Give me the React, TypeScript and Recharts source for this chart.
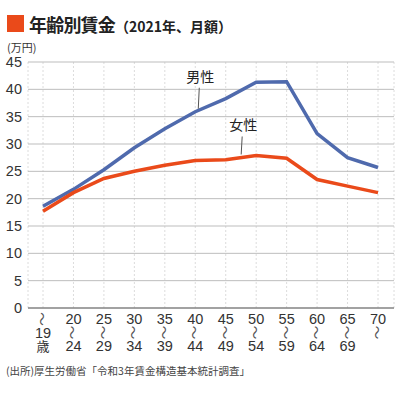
import React from 'react';
import { LineChart, Line, XAxis, YAxis, CartesianGrid, ReferenceDot } from 'recharts';

const ageGroups = ['~19', '20-24', '25-29', '30-34', '35-39', '40-44', '45-49', '50-54', '55-59', '60-64', '65-69', '70~'];
const ageLabelLines = [
    ['～', '19', '歳'],
    ['20', '～', '24'],
    ['25', '～', '29'],
    ['30', '～', '34'],
    ['35', '～', '39'],
    ['40', '～', '44'],
    ['45', '～', '49'],
    ['50', '～', '54'],
    ['55', '～', '59'],
    ['60', '～', '64'],
    ['65', '～', '69'],
    ['70', '～'],
];
const maleWage = [18.6, 21.7, 25.3, 29.3, 32.8, 35.9, 38.3, 41.3, 41.4, 31.9, 27.5, 25.7];
const femaleWage = [17.7, 21.1, 23.7, 25.0, 26.1, 27.0, 27.1, 27.9, 27.4, 23.5, 22.3, 21.1];
const yTicks = [0, 5, 10, 15, 20, 25, 30, 35, 40, 45];

const MALE_COLOR = '#4f6aad';
const FEMALE_COLOR = '#ea4a1a';
const NUM_FONT = '"Liberation Sans", Arial, "Noto Sans CJK JP", sans-serif';
const JP_FONT = '"Noto Sans CJK JP", "Noto Sans", sans-serif';

const chartData = ageGroups.map((age, i) => ({
    age,
    male: maleWage[i],
    female: femaleWage[i],
}));

const XTick = (props: any) => {
    const { x, y, index } = props;
    const lines = ageLabelLines[index] || [];
    return (
        <g>
            {lines.map((t, i) => {
                const cy = y + 3 + i * 13.5;
                if (t === '～') {
                    // wave dash drawn upright, as in vertical typesetting
                    return (
                        <text
                            key={i}
                            x={x}
                            y={cy}
                            textAnchor="middle"
                            dominantBaseline="central"
                            fontSize={13.5}
                            fill="#555"
                            fontFamily={JP_FONT}
                            transform={`rotate(90 ${x} ${cy})`}
                        >
                            {t}
                        </text>
                    );
                }
                const isJp = t === '歳';
                return (
                    <text
                        key={i}
                        x={x}
                        y={cy + 5}
                        textAnchor="middle"
                        fontSize={isJp ? 13 : 14.5}
                        fill="#333"
                        fontFamily={isJp ? JP_FONT : NUM_FONT}
                    >
                        {t}
                    </text>
                );
            })}
        </g>
    );
};

const YTick = (props: any) => {
    const { y, payload } = props;
    return (
        <text x={22} y={y + 5} textAnchor="end" fontSize={14.5} fill="#333" fontFamily={NUM_FONT}>
            {payload.value}
        </text>
    );
};

// label with a short leader line pointing down at the series
const leader = (label: string, dx: number, start: number, lineLen: number) => (props: any) => {
    const { cx, cy } = props;
    const x = cx + dx;
    const top = cy - start - lineLen;
    return (
        <g>
            <line x1={x} y1={cy - start} x2={x + 1} y2={top} stroke="#555" strokeWidth={1} />
            <text x={x + 2} y={top - 6} textAnchor="middle" fontSize={14} fill="#222" fontFamily={JP_FONT}>
                {label}
            </text>
        </g>
    );
};

export default function App() {
    return (
        <div style={{ position: 'absolute', left: 0, top: 0, width: 400, height: 394, background: '#fff' }}>
            <div style={{ position: 'absolute', left: 7, top: 15, width: 17, height: 17, background: FEMALE_COLOR }} />
            <div
                style={{
                    position: 'absolute',
                    left: 29,
                    top: 13,
                    height: 22,
                    lineHeight: '22px',
                    fontFamily: JP_FONT,
                    fontWeight: 700,
                    color: '#222',
                    whiteSpace: 'nowrap',
                }}
            >
                <span style={{ fontSize: 18, letterSpacing: -0.8 }}>年齢別賃金</span>
                <span style={{ fontSize: 14 }}>（2021年、月額）</span>
            </div>
            <div
                style={{
                    position: 'absolute',
                    left: 7,
                    top: 41,
                    lineHeight: '13px',
                    fontSize: 11,
                    fontFamily: JP_FONT,
                    color: '#333',
                }}
            >
                (万円)
            </div>
            <LineChart
                width={400}
                height={394}
                data={chartData}
                margin={{ top: 62, right: 6, bottom: 0, left: 0 }}
            >
                <CartesianGrid horizontal={false} stroke="#dcdcdc" strokeDasharray="2 2" />
                <CartesianGrid vertical={false} stroke="#bdbdbd" />
                <XAxis
                    dataKey="age"
                    interval={0}
                    height={86}
                    padding={{ left: 15, right: 16 }}
                    tickLine={false}
                    axisLine={{ stroke: '#666' }}
                    tick={<XTick />}
                />
                <YAxis
                    width={28}
                    domain={[0, 45]}
                    ticks={yTicks}
                    tickLine={false}
                    axisLine={false}
                    tick={<YTick />}
                />
                <Line
                    dataKey="male"
                    stroke={MALE_COLOR}
                    strokeWidth={3.5}
                    dot={false}
                    isAnimationActive={false}
                />
                <Line
                    dataKey="female"
                    stroke={FEMALE_COLOR}
                    strokeWidth={3.5}
                    dot={false}
                    isAnimationActive={false}
                />
                <ReferenceDot x="40-44" y={maleWage[5]} shape={leader('男性', 3, 3, 21)} />
                <ReferenceDot x="50-54" y={femaleWage[7]} shape={leader('女性', -15, 1, 18)} />
            </LineChart>
            <div
                style={{
                    position: 'absolute',
                    left: 6,
                    top: 364,
                    lineHeight: '14px',
                    fontSize: 10.5,
                    fontFamily: JP_FONT,
                    color: '#444',
                    whiteSpace: 'nowrap',
                }}
            >
                (出所)厚生労働省「令和3年賃金構造基本統計調査」
            </div>
        </div>
    );
}
